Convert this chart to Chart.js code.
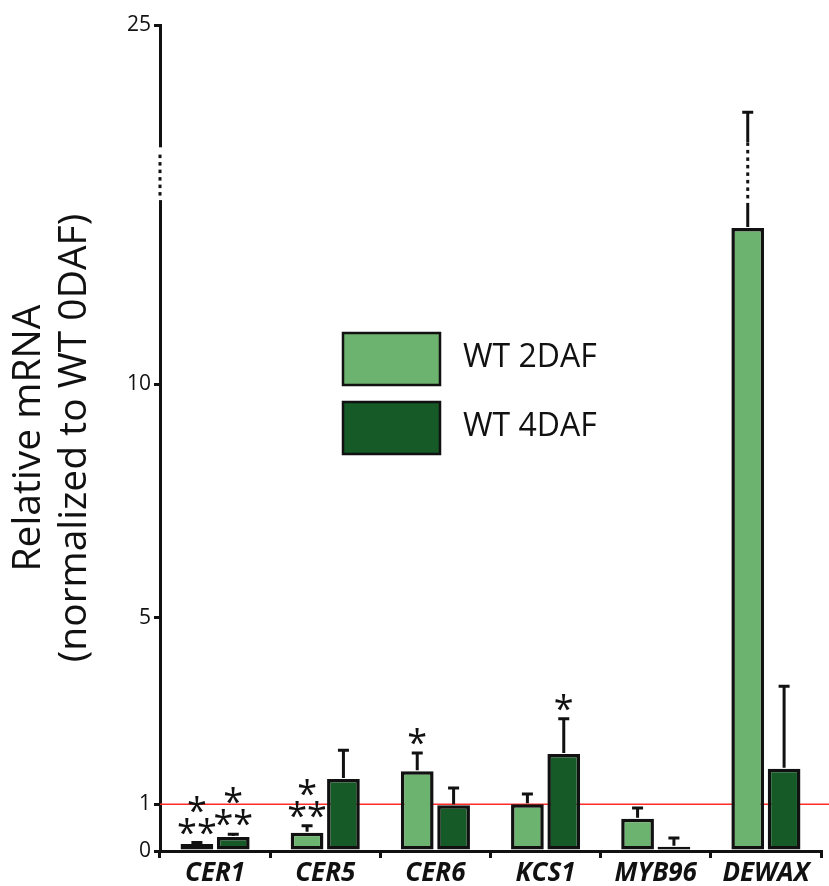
<!DOCTYPE html>
<html>
<head>
<meta charset="utf-8">
<script src="https://cdn.jsdelivr.net/npm/chart.js@4/dist/chart.umd.min.js"></script>
<style>
html, body { margin: 0; padding: 0; background: #fff; }
</style>
</head>
<body>
<canvas id="c" width="829" height="886"></canvas>
<script>
// data
var genes = ["CER1", "CER5", "CER6", "KCS1", "MYB96", "DEWAX"];
var wt2 = [0.15, 0.39, 1.71, 1.00, 0.69, 13.34];
var wt4 = [0.30, 1.54, 0.98, 2.08, 0.09, 1.76];
var err2 = [0.03, 0.15, 0.39, 0.22, 0.23, 4.71];
var err4 = [0.06, 0.62, 0.37, 0.75, 0.19, 1.77];
var sig2 = [["*", "**"], ["*", "**"], ["*"], [], [], []];
var sig4 = [["*", "**"], [], [], ["*"], [], []];
var yTicks = [0, 1, 5, 10, 25];

// broken axis: linear up to 15, compressed from 15 to 25
var BREAK = 15, TOP_REAL = 25, TOP_DISP = 17.69;
var ratio = (TOP_DISP - BREAK) / (TOP_REAL - BREAK);
function toDisp(v) { return v <= BREAK ? v : BREAK + (v - BREAK) * ratio; }
function fromDisp(d) { return d <= BREAK ? d : BREAK + (d - BREAK) / ratio; }

var LIGHT = "#6cb36f", DARK = "#155a27", INK = "#111";
var font = "'Open Sans', 'DejaVu Sans', sans-serif";

function dots(ctx, x, y1, y2) {
    // y1 > y2 (pixels)
    ctx.fillStyle = "#fff";
    ctx.fillRect(x - 3, y2, 6, y1 - y2);
    ctx.fillStyle = INK;
    for (var y = y1 - 6; y > y2 + 2; y -= 7.5) {
        ctx.fillRect(x - 1.5, y - 2, 3, 3.5);
    }
}

var extras = {
    id: "extras",
    beforeDatasetsDraw: function(chart) {
        var ctx = chart.ctx, ys = chart.scales.y;
        var y = ys.getPixelForValue(toDisp(1));
        ctx.save();
        ctx.strokeStyle = "#ff2a2a";
        ctx.lineWidth = 1.5;
        ctx.beginPath();
        ctx.moveTo(chart.chartArea.left, y);
        ctx.lineTo(chart.width, y);
        ctx.stroke();
        ctx.restore();
    },
    afterDatasetsDraw: function(chart) {
        var ctx = chart.ctx, ys = chart.scales.y;
        var vals = [wt2, wt4], errs = [err2, err4], sigs = [sig2, sig4];
        ctx.save();
        for (var d = 0; d < 2; d++) {
            var meta = chart.getDatasetMeta(d);
            meta.data.forEach(function(bar, i) {
                var top = bar.y;
                var cap = ys.getPixelForValue(toDisp(vals[d][i] + errs[d][i]));
                ctx.strokeStyle = INK;
                ctx.lineWidth = 3;
                ctx.beginPath();
                ctx.moveTo(bar.x, top - 1);
                ctx.lineTo(bar.x, cap);
                ctx.moveTo(bar.x - 5.5, cap);
                ctx.lineTo(bar.x + 5.5, cap);
                ctx.stroke();
                if (vals[d][i] + errs[d][i] > BREAK) {
                    dots(ctx, bar.x, ys.getPixelForValue(13.88), ys.getPixelForValue(15.18));
                }
                var s = sigs[d][i];
                ctx.fillStyle = INK;
                ctx.font = "36px " + font;
                ctx.textAlign = "center";
                ctx.textBaseline = "alphabetic";
                for (var k = 0; k < s.length; k++) {
                    var yy = cap + 2 - (s.length - 1 - k) * 22;
                    ctx.fillText(s[k], bar.x, yy);
                }
            });
        }
        ctx.restore();
    },
    afterDraw: function(chart) {
        var ctx = chart.ctx, ys = chart.scales.y, area = chart.chartArea;
        ctx.save();
        // axis break
        dots(ctx, area.left, ys.getPixelForValue(13.94), ys.getPixelForValue(15.07));
        // legend
        var items = chart.data.datasets;
        items.forEach(function(ds, i) {
            var y = 333 + i * 69;
            ctx.fillStyle = ds.backgroundColor;
            ctx.fillRect(343, y, 97, 52);
            ctx.strokeStyle = INK;
            ctx.lineWidth = 2.5;
            ctx.strokeRect(343, y, 97, 52);
            ctx.fillStyle = INK;
            ctx.font = "32px " + font;
            ctx.textAlign = "left";
            ctx.textBaseline = "middle";
            ctx.fillText(ds.label, 463, y + 25);
        });
        ctx.restore();
    }
};

new Chart(document.getElementById("c"), {
    type: "bar",
    data: {
        labels: genes,
        datasets: [
            {label: "WT 2DAF", data: wt2.map(toDisp), backgroundColor: LIGHT},
            {label: "WT 4DAF", data: wt4.map(toDisp), backgroundColor: DARK}
        ]
    },
    options: {
        responsive: false,
        animation: false,
        layout: {padding: {top: 25, right: 8, left: 0, bottom: 0}},
        datasets: {
            bar: {
                borderColor: INK,
                borderWidth: 3.5,
                borderSkipped: false,
                categoryPercentage: 0.66,
                barPercentage: 0.9
            }
        },
        plugins: {
            legend: {display: false},
            tooltip: {enabled: false}
        },
        scales: {
            x: {
                offset: true,
                grid: {offset: true, drawOnChartArea: false, drawTicks: true, tickLength: 7, color: INK, lineWidth: 3},
                border: {display: true, color: INK, width: 3},
                ticks: {color: INK, padding: 0, font: {family: font, size: 26, style: "italic", weight: "bold"}},
                afterFit: function(scale) { scale.height = 35; }
            },
            y: {
                min: 0,
                max: TOP_DISP,
                afterBuildTicks: function(scale) {
                    scale.ticks = yTicks.map(function(v) { return {value: toDisp(v)}; });
                },
                grid: {drawOnChartArea: false, drawTicks: true, tickLength: 6, color: INK, lineWidth: 3},
                border: {display: true, color: INK, width: 3},
                ticks: {
                    color: INK,
                    padding: 3,
                    font: {family: font, size: 21},
                    callback: function(v) { return Math.round(fromDisp(v)); }
                },
                title: {
                    display: true,
                    text: ["Relative mRNA", "(normalized to WT 0DAF)"],
                    color: INK,
                    font: {family: font, size: 39, lineHeight: 1.18},
                    padding: {top: 6, bottom: 0}
                },
                afterFit: function(scale) { scale.width = 160; }
            }
        }
    },
    plugins: [extras]
});
</script>
</body>
</html>
